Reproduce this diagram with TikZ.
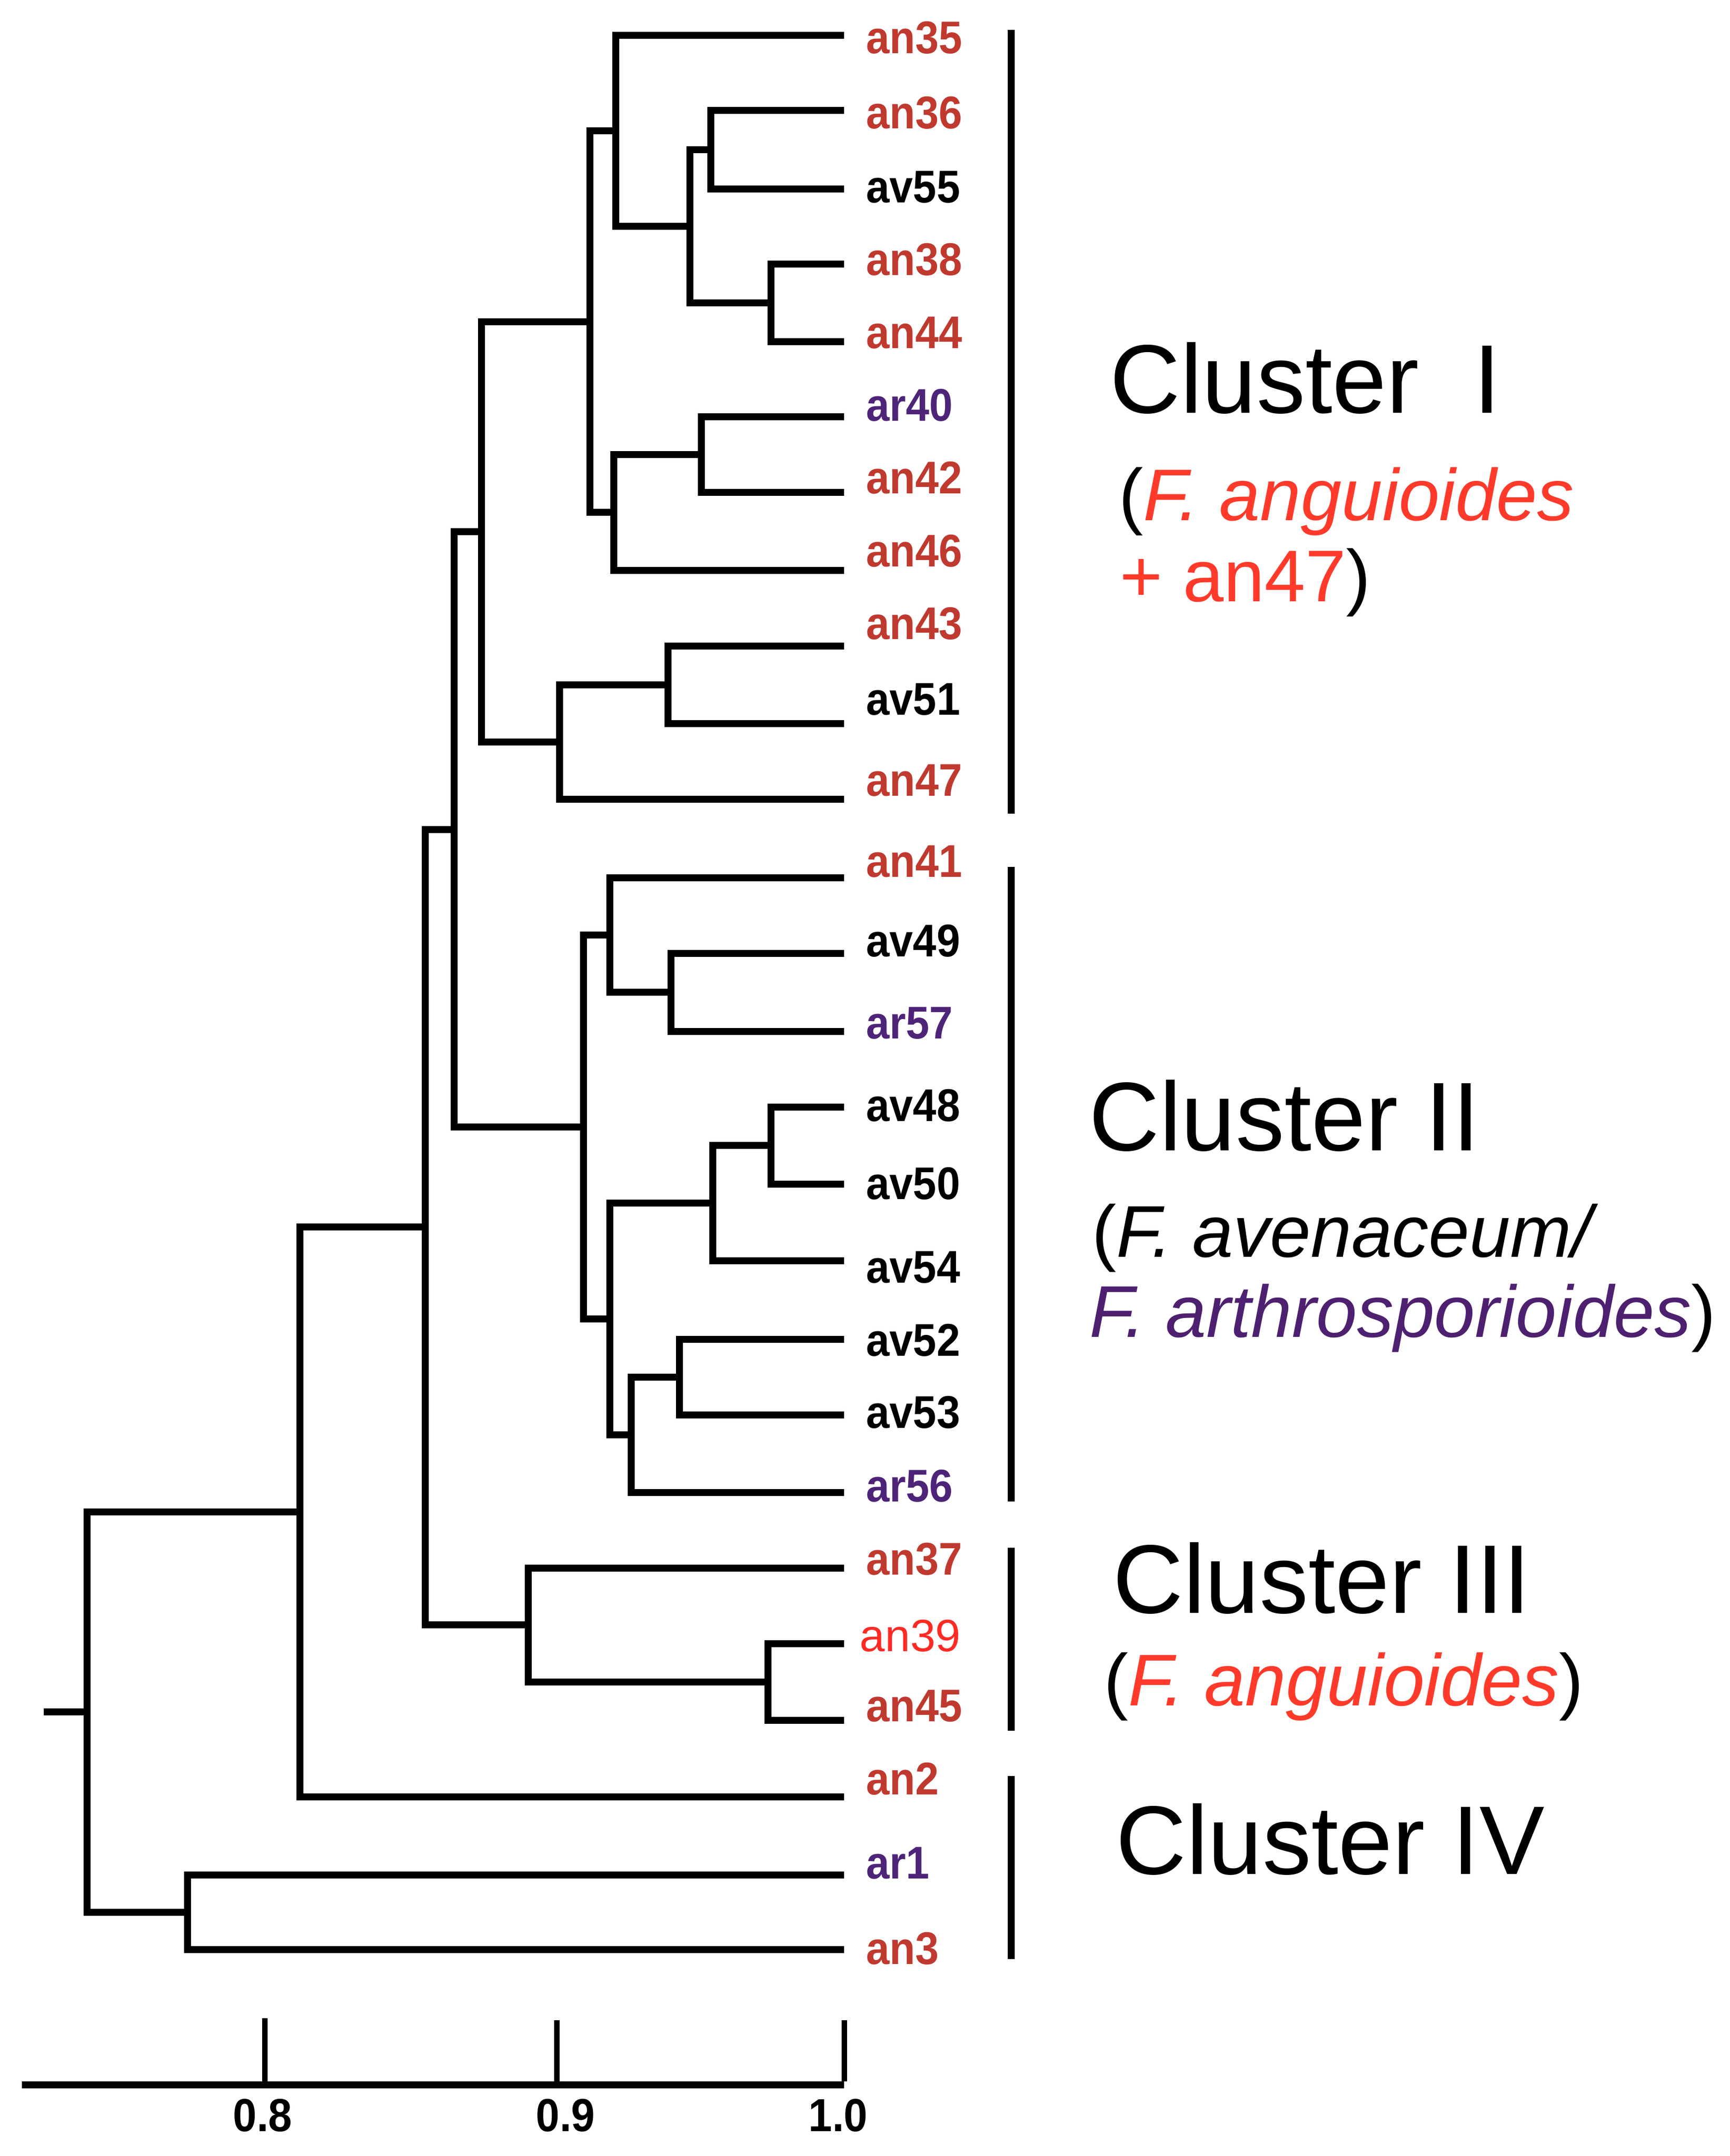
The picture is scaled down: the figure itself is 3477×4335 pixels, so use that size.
\documentclass[tikz,border=0pt]{standalone}
\usepackage{fontspec}
\setmainfont{Liberation Sans}
\newfontfamily\leaffont{Liberation Sans}[FakeStretch=0.92]
\definecolor{anred}{RGB}{192,57,47}
\definecolor{arpur}{RGB}{78,36,120}
\definecolor{brred}{RGB}{255,42,36}
\definecolor{fred}{RGB}{255,58,42}
\definecolor{fpur}{RGB}{78,32,112}
\begin{document}
\begin{tikzpicture}[x=0.01cm,y=-0.01cm,
  branch/.style={line width=0.14cm,line join=miter,line cap=butt},
  bar/.style={line width=0.14cm},
  leaf/.style={anchor=base west,inner sep=0pt,font=\leaffont\bfseries\fontsize{26.2}{30}\selectfont},
  tick/.style={anchor=base,inner sep=0pt,font=\leaffont\bfseries\fontsize{26.5}{30}\selectfont},
  clus/.style={anchor=base west,inner sep=0pt,font=\fontsize{55.8}{64}\selectfont},
  sub/.style={anchor=base west,inner sep=0pt,font=\fontsize{41.9}{46}\selectfont}]
\useasboundingbox (0,0) rectangle (3477,4335);
% leaf end points
\foreach \n/\y in {1/71,2/222,3/380,4/531,5/687,6/838,7/990,8/1147,9/1299,10/1455,11/1607,12/1765,13/1917,14/2074,15/2226,16/2381,17/2535,18/2693,19/2845,20/3001,21/3153,22/3305,23/3459,24/3613,25/3770,26/3920}
  \coordinate (L\n) at (1697,\y);
% internal nodes
\coordinate (B) at (1429,301);
\coordinate (C) at (1550,609);
\coordinate (D) at (1387,455);
\coordinate (A) at (1238,263);
\coordinate (E) at (1410,914);
\coordinate (F) at (1234,1030);
\coordinate (G) at (1186,647);
\coordinate (H) at (1343,1377);
\coordinate (I) at (1125,1492);
\coordinate (J) at (968,1069);
\coordinate (Lb) at (1349,1995);
\coordinate (M) at (1226,1880);
\coordinate (N) at (1550,2303);
\coordinate (O) at (1433,2419);
\coordinate (P) at (1366,2769);
\coordinate (Q) at (1269,2885);
\coordinate (R) at (1226,2652);
\coordinate (S) at (1173,2266);
\coordinate (K) at (913,1668);
\coordinate (U) at (1544,3382);
\coordinate (V) at (1062,3267);
\coordinate (T) at (855,2467);
\coordinate (W) at (603,3040);
\coordinate (X) at (377,3845);
\coordinate (Y) at (175,3442);
\coordinate (root) at (88,3442);
% brackets
\foreach \a/\p/\b in {L2/B/L3, L4/C/L5, B/D/C, L1/A/D, L6/E/L7, E/F/L8, A/G/F, L9/H/L10, H/I/L11, G/J/I,
  L13/Lb/L14, L12/M/Lb, L15/N/L16, N/O/L17, L18/P/L19, P/Q/L20, O/R/Q, M/S/R, J/K/S,
  L22/U/L23, L21/V/U, K/T/V, T/W/L24, L25/X/L26, W/Y/X}
  \draw[branch] (\a) -| (\p) |- (\b);
\draw[branch] (root) -- (Y);
% leaf labels
\node[leaf,text=anred] (t1) at (1741,107) {an35};
\node[leaf,text=anred] (t2) at (1741,258) {an36};
\node[leaf,text=black] (t3) at (1741,407) {av55};
\node[leaf,text=anred] (t4) at (1741,553) {an38};
\node[leaf,text=anred] (t5) at (1741,700) {an44};
\node[leaf,text=arpur] (t6) at (1741,846) {ar40};
\node[leaf,text=anred] (t7) at (1741,992) {an42};
\node[leaf,text=anred] (t8) at (1741,1139) {an46};
\node[leaf,text=anred] (t9) at (1741,1285) {an43};
\node[leaf,text=black] (t10) at (1741,1437) {av51};
\node[leaf,text=anred] (t11) at (1741,1600) {an47};
\node[leaf,text=anred] (t12) at (1741,1763) {an41};
\node[leaf,text=black] (t13) at (1741,1923) {av49};
\node[leaf,text=arpur] (t14) at (1741,2088) {ar57};
\node[leaf,text=black] (t15) at (1741,2254) {av48};
\node[leaf,text=black] (t16) at (1741,2411) {av50};
\node[leaf,text=black] (t17) at (1741,2579) {av54};
\node[leaf,text=black] (t18) at (1741,2726) {av52};
\node[leaf,text=black] (t19) at (1741,2871) {av53};
\node[leaf,text=arpur] (t20) at (1741,3019) {ar56};
\node[leaf,text=anred] (t21) at (1741,3166) {an37};
\node[anchor=base west,inner sep=0pt,text=brred,font=\fontsize{25.9}{30}\selectfont] (t22) at (1728,3320) {an39};
\node[leaf,text=anred] (t23) at (1741,3461) {an45};
\node[leaf,text=anred] (t24) at (1741,3608) {an2};
\node[leaf,text=arpur] (t25) at (1741,3777) {ar1};
\node[leaf,text=anred] (t26) at (1741,3949) {an3};
% cluster bars
\coordinate (b1t) at (2033,60);   \coordinate (b1b) at (2033,1636);
\coordinate (b2t) at (2033,1743); \coordinate (b2b) at (2033,3019);
\coordinate (b3t) at (2033,3112); \coordinate (b3b) at (2033,3480);
\coordinate (b4t) at (2033,3571); \coordinate (b4b) at (2033,3939);
\draw[bar] (b1t) -- (b1b);
\draw[bar] (b2t) -- (b2b);
\draw[bar] (b3t) -- (b3b);
\draw[bar] (b4t) -- (b4b);
% cluster labels
\node[clus] (c1) at (2231,830) {Cluster~~I};
\node[sub] (c1a) at (2249,1046) {(\textcolor{fred}{\itshape F. anguioides}};
\node[sub] (c1b) at (2251,1209) {\textcolor{fred}{+ an47})};
\node[clus] (c2) at (2189,2313) {Cluster II};
\node[sub] (c2a) at (2195,2527) {(\itshape F. avenaceum/};
\node[sub] (c2b) at (2190,2688) {\textcolor{fpur}{\itshape F. arthrosporioides})};
\node[clus] (c3) at (2237,3243) {Cluster III};
\node[sub] (c3a) at (2219,3429) {(\textcolor{fred}{\itshape F. anguioides})};
\node[clus] (c4) at (2243,3768) {Cluster IV};
% scale axis
\coordinate (ax0) at (44,4192);
\coordinate (ax8) at (532,4192);
\coordinate (ax9) at (1119,4192);
\coordinate (ax10) at (1697,4192);
\coordinate (tk8) at (532,4058);
\coordinate (tk9) at (1119,4062);
\coordinate (tk10) at (1697,4062);
\draw[branch] (ax0) -- (ax10);
\draw[line width=0.11cm] (ax8) -- (tk8);
\draw[line width=0.11cm] (ax9) -- (tk9);
\draw[line width=0.11cm] ([yshift=0.07cm]ax10) -- (tk10);
\node[tick] (v8) at (528,4285) {0.8};
\node[tick] (v9) at (1137,4285) {0.9};
\node[tick] (v10) at (1685,4285) {1.0};
\end{tikzpicture}
\end{document}
